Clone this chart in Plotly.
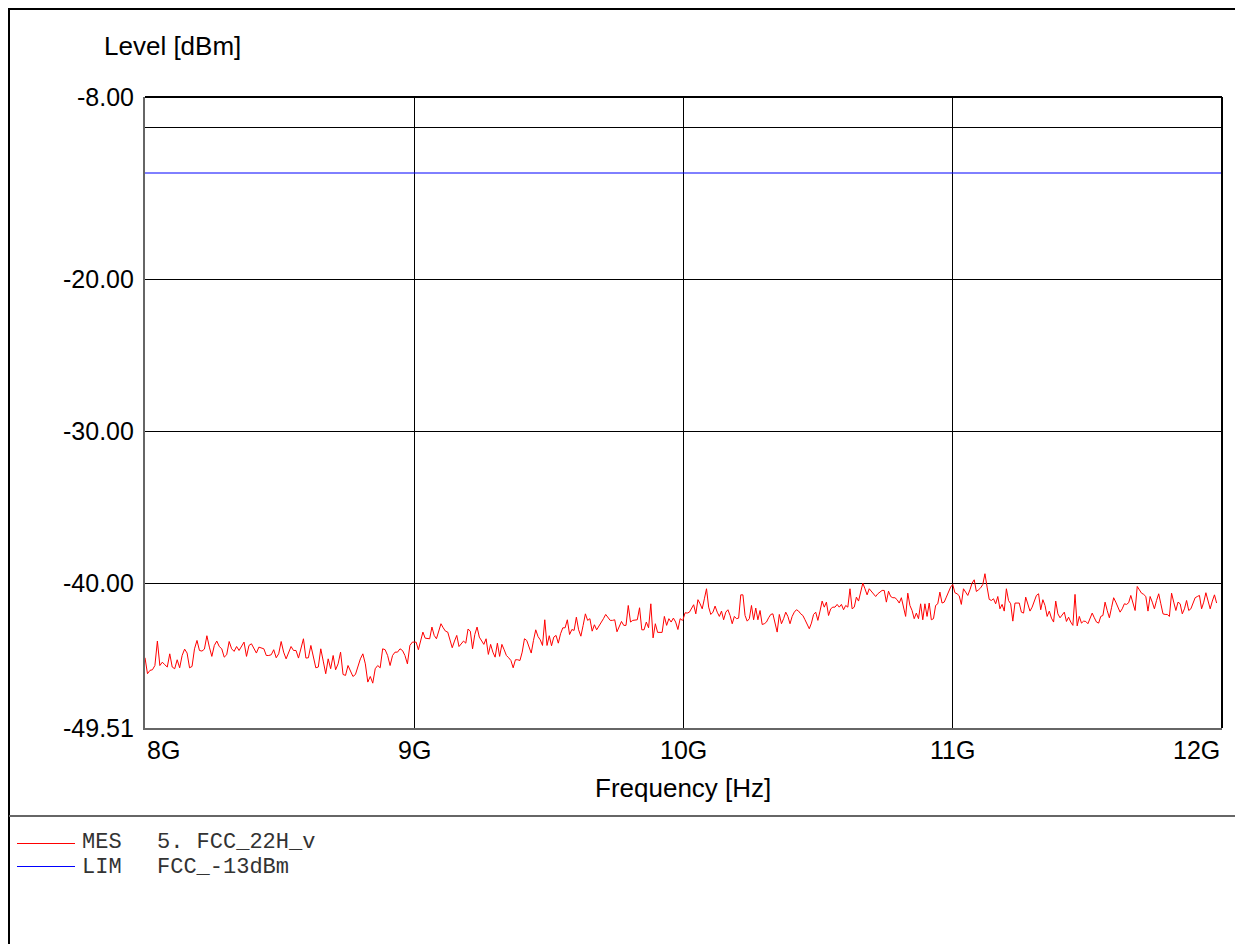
import numpy as np
import plotly.graph_objects as go

# ---------------- data ----------------
# measured level [dBm], four sweep segments between the vertical grid lines
SEG1_LEVEL = [-44.89, -45.94, -45.72, -45.68, -45.40, -43.79, -45.40, -45.18, -45.35, -45.50,
              -44.63, -45.50, -45.61, -45.02, -45.55, -44.74, -44.32, -44.58, -45.55, -45.46,
              -44.30, -43.75, -44.41, -44.45, -44.32, -43.44, -44.19, -44.80, -44.08, -43.79,
              -44.15, -44.30, -44.85, -44.69, -43.82, -44.30, -44.47, -44.15, -44.41, -44.08,
              -43.86, -44.80, -44.08, -43.97, -44.23, -44.58, -44.19, -44.23, -44.30, -44.74,
              -44.74, -44.69, -44.36, -44.89, -44.63, -43.82, -44.52, -44.96, -44.58, -44.15,
              -44.41, -44.41, -44.91, -44.25, -43.64, -44.91, -44.89, -44.08, -44.85, -45.55,
              -45.50, -44.30, -45.11, -45.94, -44.96, -45.61, -44.74, -45.68, -45.29, -44.52,
              -45.99, -46.05, -45.40, -45.83, -46.12, -45.99, -45.50, -44.96, -44.63, -45.29,
              -46.49, -46.12, -46.56, -45.61, -45.40, -45.55, -44.30, -44.36, -44.74, -45.40,
              -44.74, -44.52, -44.52, -44.30, -44.41, -44.74, -45.29, -44.08, -43.86]
SEG2_LEVEL = [-43.86, -44.36, -43.75, -43.20, -43.60, -43.64, -43.64, -42.87, -43.42, -43.64,
              -43.20, -42.65, -42.92, -43.14, -43.20, -43.75, -44.23, -43.79, -43.42, -44.15,
              -43.97, -43.79, -43.93, -43.00, -43.14, -44.30, -43.36, -42.87, -43.53, -43.75,
              -44.01, -43.64, -44.67, -44.01, -44.52, -44.85, -43.93, -44.80, -44.01, -44.36,
              -44.74, -44.89, -45.07, -45.55, -45.02, -45.02, -45.07, -44.52, -43.64, -43.75,
              -44.19, -44.58, -43.75, -43.05, -43.49, -43.71, -44.08, -42.39, -44.08, -43.44,
              -44.10, -43.53, -43.42, -43.93, -43.31, -42.92, -42.92, -42.39, -43.36, -43.03,
              -43.09, -42.22, -43.05, -43.47, -42.76, -42.00, -42.43, -42.32, -43.14, -42.72,
              -43.05, -42.83, -42.54, -42.32, -42.04, -42.22, -42.43, -42.43, -42.39, -43.18,
              -42.83, -42.50, -42.76, -42.76, -41.45, -42.54, -42.43, -42.39, -42.39, -41.60,
              -43.05, -43.05, -42.54, -42.92, -41.34, -43.58, -42.65, -43.22, -43.22, -43.22,
              -42.17, -42.76, -42.32, -42.54, -42.28, -42.54, -43.03, -42.32, -42.43]
SEG3_LEVEL = [-42.39, -41.93, -41.95, -41.89, -41.67, -41.40, -42.00, -41.07, -41.34, -41.67,
              -41.01, -40.35, -41.56, -42.04, -41.89, -41.49, -41.89, -42.17, -41.82, -42.39,
              -41.89, -41.73, -42.11, -42.65, -42.17, -42.32, -42.28, -40.75, -40.75, -42.11,
              -42.48, -42.32, -41.45, -42.39, -41.62, -42.39, -41.78, -42.70, -42.65, -42.54,
              -42.26, -42.04, -42.00, -42.54, -43.20, -42.04, -42.65, -42.32, -41.89, -42.17,
              -42.65, -42.17, -41.89, -41.73, -41.82, -42.00, -42.11, -42.39, -42.65, -42.98,
              -42.61, -42.04, -41.89, -42.43, -41.82, -41.16, -41.56, -41.23, -42.11, -41.67,
              -41.56, -41.56, -41.38, -41.56, -41.38, -41.73, -41.45, -41.56, -40.35, -41.67,
              -41.56, -40.90, -41.16, -40.57, -39.98, -40.35, -40.75, -40.35, -40.51, -40.68,
              -40.86, -40.68, -40.57, -40.46, -40.46, -41.23, -40.51, -40.86, -40.94, -40.94,
              -41.07, -41.29, -40.94, -41.67, -42.17, -40.64, -41.45, -41.78, -42.32, -41.95,
              -42.32, -41.34, -42.39, -41.34, -42.17, -41.29, -42.39, -42.32, -41.45, -41.34,
              -40.57, -41.29, -41.23, -40.90, -40.57, -40.24, -40.07]
SEG4_LEVEL = [-40.61, -40.68, -40.81, -41.38, -40.35, -40.57, -40.79, -40.42, -39.98, -39.76,
              -40.53, -40.42, -40.29, -40.07, -39.36, -40.24, -41.05, -41.12, -41.01, -41.34,
              -40.86, -41.67, -41.38, -41.82, -40.35, -41.12, -41.34, -42.48, -41.29, -41.29,
              -41.29, -41.89, -41.95, -40.90, -41.40, -41.82, -41.56, -41.16, -40.79, -40.68,
              -41.73, -41.07, -41.45, -42.17, -41.82, -42.28, -42.54, -41.16, -42.00, -42.26,
              -42.11, -41.89, -42.50, -42.22, -42.54, -42.76, -40.72, -42.79, -42.17, -42.61,
              -42.48, -42.50, -42.65, -42.32, -41.95, -42.26, -42.54, -42.61, -42.17, -42.11,
              -41.23, -41.78, -42.26, -41.60, -40.94, -41.23, -41.60, -41.89, -41.67, -41.34,
              -41.38, -41.27, -40.79, -41.29, -41.78, -40.20, -40.46, -40.64, -40.72, -40.86,
              -41.82, -40.86, -41.23, -41.67, -41.12, -40.68, -41.34, -42.00, -42.04, -42.04,
              -42.17, -40.64, -41.23, -41.78, -41.23, -41.34, -42.00, -41.67, -41.12, -41.78,
              -41.67, -41.34, -40.94, -40.86, -40.79, -41.67, -41.23, -40.61, -41.12, -41.67,
              -41.16, -40.75, -41.29]
# start / stop frequency [GHz] of each segment (equally spaced sweep points)
SEG_START_GHZ = [8.000, 9.007, 9.998, 11.008]
SEG_STOP_GHZ = [8.993, 9.996, 11.000, 11.980]

LIMIT_FREQ_HZ = [8.0e9, 12.0e9]
LIMIT_LEVEL = [-13.0, -13.0]

Y_RANGE = [-49.51, -8.0]
X_RANGE = [8.0e9, 12.0e9]
Y_GRID = [-10.0, -20.0, -30.0, -40.0]
Y_TICK_VALUES = [-8.0, -20.0, -30.0, -40.0, -49.51]
Y_TICK_LABELS = ["-8.00", "-20.00", "-30.00", "-40.00", "-49.51"]
X_GRID = [9.0e9, 10.0e9, 11.0e9]
X_TICK_VALUES = [8.0e9, 9.0e9, 10.0e9, 11.0e9, 12.0e9]
X_TICK_LABELS = ["8G", "9G", "10G", "11G", "12G"]

LEGEND_NAMES = ["MES", "LIM"]
LEGEND_TEXTS = ["5. FCC_22H_v", "FCC_-13dBm"]
LEGEND_COLORS = ["#ff0000", "#0000ff"]

# ---------------- build ----------------
segs = [SEG1_LEVEL, SEG2_LEVEL, SEG3_LEVEL, SEG4_LEVEL]
freq = []
level = []
for s, a, b in zip(segs, SEG_START_GHZ, SEG_STOP_GHZ):
    freq.extend(list(np.linspace(a, b, len(s)) * 1e9))
    level.extend(s)

OFF = 8                      # page body margin
PAGE_W, PAGE_H = 1243, 944
W, H = PAGE_W - OFF, PAGE_H - OFF
PL, PR, PT, PB = 145, 1222, 97, 728  # plot area in page pixels


def px(xp):
    return (xp - PL) / (PR - PL)


def py(yp):
    return (PB - yp) / (PB - PT)


SANS = "Arial, Liberation Sans, sans-serif"
MONO = "Courier New, Liberation Mono, monospace"

fig = go.Figure()
fig.add_trace(go.Scatter(x=LIMIT_FREQ_HZ, y=LIMIT_LEVEL, mode="lines",
                         line=dict(color=LEGEND_COLORS[1], width=1),
                         showlegend=False, hoverinfo="skip"))
fig.add_trace(go.Scatter(x=freq, y=level, mode="lines",
                         line=dict(color=LEGEND_COLORS[0], width=1),
                         showlegend=False, hoverinfo="skip"))

annotations = []
for v, t in zip(Y_TICK_VALUES, Y_TICK_LABELS):
    annotations.append(dict(x=0, xref="paper", y=v, yref="y", text=t, showarrow=False,
                            xanchor="right", yanchor="middle", xshift=-9,
                            font=dict(family=SANS, size=25, color="#000")))
for i, (v, t) in enumerate(zip(X_TICK_VALUES, X_TICK_LABELS)):
    anchor = "left" if i == 0 else ("right" if i == len(X_TICK_VALUES) - 1 else "center")
    annotations.append(dict(x=v, xref="x", y=py(750), yref="paper", text=t, showarrow=False,
                            xanchor=anchor, yanchor="middle",
                            font=dict(family=SANS, size=25, color="#000")))
annotations.append(dict(x=px(102), xref="paper", y=py(46), yref="paper", text="Level [dBm]",
                        showarrow=False, xanchor="left", yanchor="middle",
                        font=dict(family=SANS, size=26, color="#000")))
annotations.append(dict(x=px(683), xref="paper", y=py(788), yref="paper", text="Frequency [Hz]",
                        showarrow=False, xanchor="center", yanchor="middle",
                        font=dict(family=SANS, size=26, color="#000")))

shapes = []
legend_rows = [842, 867]
legend_line_rows = [843.5, 866.5]
for yrow, yline, name, txt, col in zip(legend_rows, legend_line_rows, LEGEND_NAMES,
                                        LEGEND_TEXTS, LEGEND_COLORS):
    shapes.append(dict(type="line", xref="paper", yref="paper", x0=px(17), x1=px(75),
                       y0=py(yline), y1=py(yline), line=dict(color=col, width=1)))
    annotations.append(dict(x=px(80), xref="paper", y=py(yrow), yref="paper", text=name,
                            showarrow=False, xanchor="left", yanchor="middle",
                            font=dict(family=MONO, size=22, color="#333")))
    annotations.append(dict(x=px(155), xref="paper", y=py(yrow), yref="paper", text=txt,
                            showarrow=False, xanchor="left", yanchor="middle",
                            font=dict(family=MONO, size=22, color="#333")))

# outer frame and separator
shapes.append(dict(type="rect", xref="paper", yref="paper", x0=px(9), x1=px(1242),
                   y0=py(960), y1=py(9), line=dict(color="#000", width=2), layer="above"))
shapes.append(dict(type="line", xref="paper", yref="paper", x0=px(9), x1=px(1242),
                   y0=py(816), y1=py(816), line=dict(color="#666", width=2)))
# top / right plot border
shapes.append(dict(type="line", xref="paper", yref="paper", x0=0, x1=1, y0=1, y1=1,
                   line=dict(color="#000", width=2)))
shapes.append(dict(type="line", xref="paper", yref="paper", x0=1, x1=1, y0=0, y1=1,
                   line=dict(color="#000", width=2)))

fig.update_layout(
    width=W, height=H,
    margin=dict(l=PL - OFF, r=(PAGE_W - OFF) - (PR - OFF), t=PT - OFF,
                b=(PAGE_H - OFF) - (PB - OFF), pad=0),
    paper_bgcolor="#fff", plot_bgcolor="#fff",
    showlegend=False,
    annotations=annotations,
    shapes=shapes,
    xaxis=dict(range=X_RANGE, tickmode="array", tickvals=X_GRID, showticklabels=False,
               showgrid=True, gridcolor="#000", gridwidth=1, zeroline=False,
               showline=True, linecolor="#666", linewidth=2, ticks=""),
    yaxis=dict(range=Y_RANGE, tickmode="array", tickvals=Y_GRID, showticklabels=False,
               showgrid=True, gridcolor="#000", gridwidth=1, zeroline=False,
               showline=True, linecolor="#666", linewidth=2, ticks=""),
)

fig.write_html("out.html")
